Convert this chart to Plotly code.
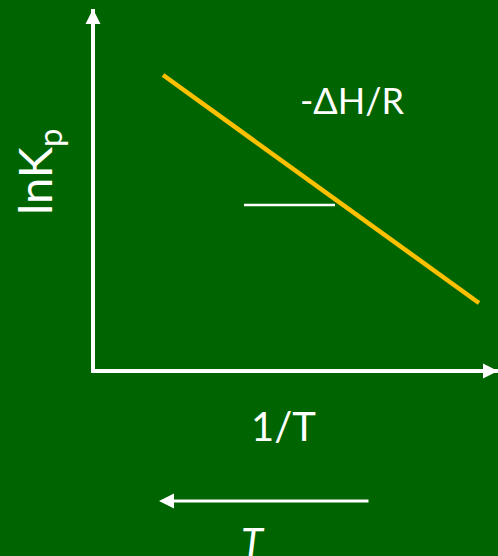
import plotly.graph_objects as go

# ---- data (schematic units: origin at axes corner) ----
line_x = [70, 386]          # 1/T
line_y = [296, 68]          # lnKp
slope_x = [151, 242]        # horizontal slope guide
slope_y = [166, 166]
axes_x = [0, 0, 405]
axes_y = [362, 0, 0]
y_arrow_tip = (0, 362)
x_arrow_tip = (405, 0)
t_arrow_tail = (277, -130)
t_arrow_tip = (66, -130)

labels = {
    "slope": ("-ΔH/R", 259, 271),
    "xlab": ("1/T", 190, -55),
    "tlab": ("<i>T</i>", 160, -171),
    "ylab": ("lnK<sub>p</sub>", -56, 199),
}

GREEN = "rgb(0,100,0)"
GOLD = "#FFC000"
WHITE = "white"
FONT = "Lato"

fig = go.Figure()
fig.add_trace(go.Scatter(x=axes_x, y=axes_y, mode="lines",
                         line=dict(color=WHITE, width=4), hoverinfo="skip"))
fig.add_trace(go.Scatter(x=line_x, y=line_y, mode="lines",
                         line=dict(color=GOLD, width=4.5), hoverinfo="skip"))
fig.add_trace(go.Scatter(x=slope_x, y=slope_y, mode="lines",
                         line=dict(color=WHITE, width=2.5), hoverinfo="skip"))

# arrows
def arrow(tip, tail, width, size):
    fig.add_annotation(x=tip[0], y=tip[1], ax=tail[0], ay=tail[1],
                       xref="x", yref="y", axref="x", ayref="y",
                       text="", showarrow=True, arrowhead=2,
                       arrowsize=size, arrowwidth=width, arrowcolor=WHITE)

arrow(y_arrow_tip, (axes_x[1], axes_y[1]), 4, 0.75)
arrow(x_arrow_tip, (axes_x[1], axes_y[1]), 4, 0.75)
arrow(t_arrow_tip, t_arrow_tail, 3, 1.0)

sizes = {"slope": 36, "xlab": 40, "tlab": 40, "ylab": 47}
for key, (txt, x, y) in labels.items():
    fig.add_annotation(x=x, y=y, xref="x", yref="y", text=txt, showarrow=False,
                       xanchor="center", yanchor="middle",
                       textangle=-90 if key == "ylab" else 0,
                       font=dict(family=FONT, size=sizes[key], color=WHITE))

fig.update_layout(
    width=498, height=556,
    margin=dict(l=0, r=0, t=0, b=0),
    paper_bgcolor=GREEN, plot_bgcolor=GREEN,
    showlegend=False,
    xaxis=dict(range=[-93, 405], visible=False, fixedrange=True),
    yaxis=dict(range=[-185, 371], visible=False, fixedrange=True),
)
fig.write_html("out.html", config={"displayModeBar": False},
               post_script="document.body.style.margin='0';document.body.style.overflow='hidden';")
